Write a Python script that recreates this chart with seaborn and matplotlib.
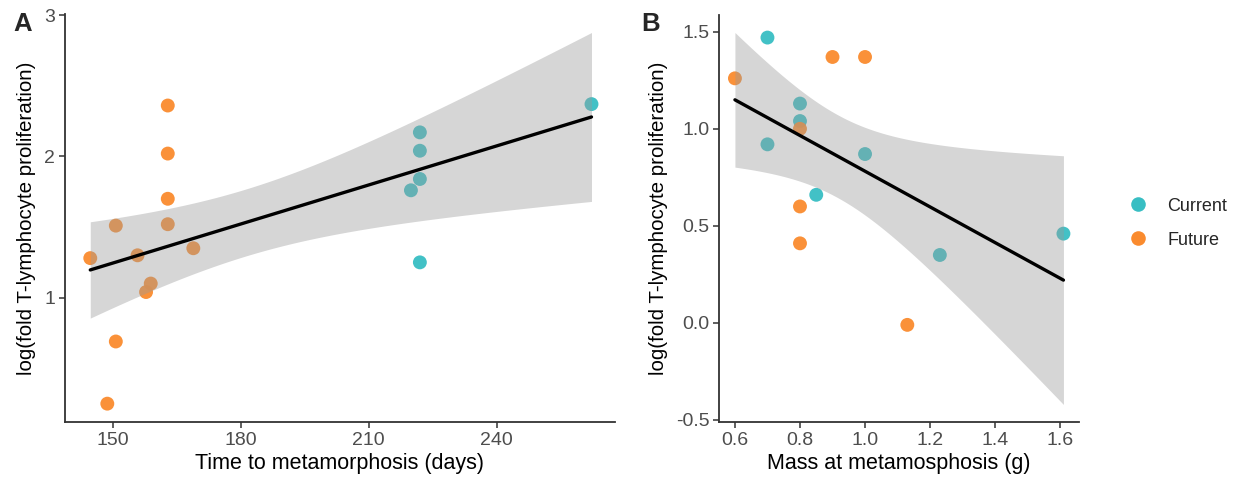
import matplotlib
matplotlib.use("Agg")
import matplotlib.pyplot as plt
from matplotlib.lines import Line2D
import numpy as np
import pandas as pd
import seaborn as sns

# Panel A: time to metamorphosis vs log fold T-lymphocyte proliferation
time_current = [222.0, 222.0, 222.0, 219.9, 222.0, 262.3]
prolif_a_current = [2.17, 2.04, 1.84, 1.76, 1.25, 2.37]
time_future = [144.6, 150.6, 162.8, 162.8, 162.8, 162.8, 155.7, 158.8, 157.7, 168.8, 150.6, 148.6]
prolif_a_future = [1.28, 1.51, 2.36, 2.02, 1.70, 1.52, 1.30, 1.10, 1.04, 1.35, 0.69, 0.25]

# Panel B: mass at metamorphosis vs log fold T-lymphocyte proliferation
mass_current = [0.70, 0.80, 0.80, 0.70, 1.00, 0.85, 1.23, 1.61]
prolif_b_current = [1.47, 1.13, 1.04, 0.92, 0.87, 0.66, 0.35, 0.46]
mass_future = [0.60, 0.90, 1.00, 0.80, 0.80, 0.80, 1.13]
prolif_b_future = [1.26, 1.37, 1.37, 1.00, 0.60, 0.41, -0.01]

groups = ["Current", "Future"]
palette = {"Current": "#38BEC3", "Future": "#FA8B2E"}

df_a = pd.DataFrame({
    "time": time_current + time_future,
    "prolif": prolif_a_current + prolif_a_future,
    "group": ["Current"] * len(time_current) + ["Future"] * len(time_future),
})
df_b = pd.DataFrame({
    "mass": mass_current + mass_future,
    "prolif": prolif_b_current + prolif_b_future,
    "group": ["Current"] * len(mass_current) + ["Future"] * len(mass_future),
})

try:
    from scipy import stats

    def t_crit(dof):
        return stats.t.ppf(0.975, dof)
except ImportError:
    _T975 = {11: 2.201, 12: 2.179, 13: 2.160, 14: 2.145, 15: 2.131,
             16: 2.120, 17: 2.110, 18: 2.101}

    def t_crit(dof):
        return _T975[dof]


def lm_band(x, y, grid):
    """Least-squares fit with a 95% confidence band for the mean response."""
    x = np.asarray(x, float)
    y = np.asarray(y, float)
    n = len(x)
    slope, intercept = np.polyfit(x, y, 1)
    resid = y - (intercept + slope * x)
    s = np.sqrt(np.sum(resid ** 2) / (n - 2))
    xm = x.mean()
    sxx = np.sum((x - xm) ** 2)
    fit = intercept + slope * grid
    se = s * np.sqrt(1.0 / n + (grid - xm) ** 2 / sxx)
    half = t_crit(n - 2) * se
    return fit - half, fit + half


sns.set_theme(style="ticks")
plt.rcParams["font.family"] = ["Liberation Sans", "DejaVu Sans"]

fig = plt.figure(figsize=(12.4, 4.78), dpi=100)
ax_a = fig.add_axes([0.0524, 0.1165, 0.4435, 0.854])
ax_b = fig.add_axes([0.5801, 0.1165, 0.2901, 0.852])

axis_col = "#333333"
tick_col = "#4D4D4D"


def draw_panel(ax, df, xcol):
    sns.scatterplot(data=df, x=xcol, y="prolif", hue="group", hue_order=groups,
                    palette=palette, s=100, alpha=0.95, linewidth=0, ax=ax,
                    legend=False, zorder=1)
    grid = np.linspace(df[xcol].min(), df[xcol].max(), 200)
    lo, hi = lm_band(df[xcol], df["prolif"], grid)
    ax.fill_between(grid, lo, hi, facecolor="#999999", alpha=0.4,
                    linewidth=0, zorder=2)
    sns.regplot(data=df, x=xcol, y="prolif", scatter=False, ci=None,
                color="black", line_kws={"linewidth": 2.4, "zorder": 3}, ax=ax)
    for side in ("top", "right"):
        ax.spines[side].set_visible(False)
    for side in ("left", "bottom"):
        ax.spines[side].set_color(axis_col)
        ax.spines[side].set_linewidth(1.3)
    ax.tick_params(axis="both", colors=axis_col, labelcolor=tick_col,
                   labelsize=14, length=4, width=1.1, pad=3)
    ax.set_ylabel("log(fold T-lymphocyte proliferation)", fontsize=14.8,
                  color="black", labelpad=6)


draw_panel(ax_a, df_a, "time")
ax_a.set_xlim(138.66, 267.8)
ax_a.set_ylim(0.118, 3.007)
ax_a.set_xticks([150, 180, 210, 240])
ax_a.set_yticks([1, 2, 3])
ax_a.set_xlabel("Time to metamorphosis (days)", fontsize=15.5, color="black", labelpad=3)

draw_panel(ax_b, df_b, "mass")
ax_b.set_xlim(0.552, 1.658)
ax_b.set_ylim(-0.512, 1.586)
ax_b.set_xticks([0.6, 0.8, 1.0, 1.2, 1.4, 1.6])
ax_b.set_xticklabels(["0.6", "0.8", "1.0", "1.2", "1.4", "1.6"])
ax_b.set_yticks([-0.5, 0.0, 0.5, 1.0, 1.5])
ax_b.set_yticklabels(["-0.5", "0.0", "0.5", "1.0", "1.5"])
ax_b.set_xlabel("Mass at metamosphosis (g)", fontsize=15.5, color="black", labelpad=3)

fig.text(0.011, 0.935, "A", fontsize=18.5, fontweight="bold", ha="left", va="baseline")
fig.text(0.517, 0.935, "B", fontsize=18.5, fontweight="bold", ha="left", va="baseline")

handles = [Line2D([], [], linestyle="none", marker="o", markersize=10.5,
                  markerfacecolor=palette[g], markeredgewidth=0) for g in groups]
fig.legend(handles, groups, loc="center left", bbox_to_anchor=(0.8975, 0.533),
           frameon=False, fontsize=13, handletextpad=1.1, labelspacing=0.95,
           handlelength=1.0)

fig.savefig("out.png", dpi=100)
